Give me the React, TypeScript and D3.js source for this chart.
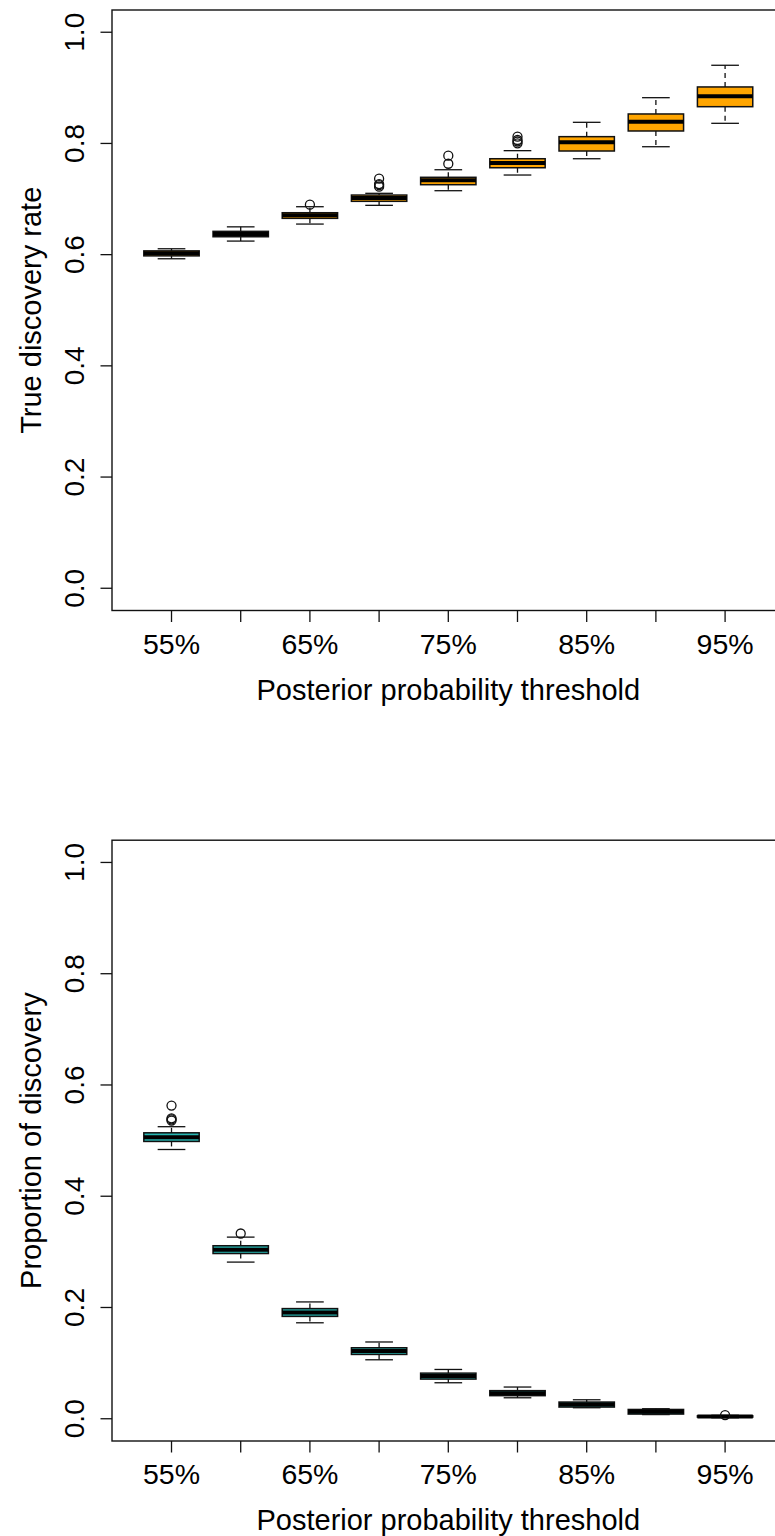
import { useEffect, useRef } from 'react';
import * as d3 from 'd3';

// Posterior probability thresholds (one box per threshold)
const thresholds = ['55%', '60%', '65%', '70%', '75%', '80%', '85%', '90%', '95%'];
// R drops the overlapping labels, only every other one is printed
const shownLabels = ['55%', '65%', '75%', '85%', '95%'];
const yTicks = [0, 0.2, 0.4, 0.6, 0.8, 1.0];

// True discovery rate
const tdrLow = [0.5926, 0.6244, 0.655, 0.6887, 0.715, 0.7432, 0.7725, 0.7941, 0.8362];
const tdrQ1 = [0.5978, 0.6322, 0.6653, 0.6959, 0.7258, 0.7563, 0.7864, 0.8224, 0.8661];
const tdrMedian = [0.6023, 0.637, 0.6707, 0.7018, 0.7337, 0.7648, 0.802, 0.8391, 0.8848];
const tdrQ3 = [0.6068, 0.6419, 0.6754, 0.7072, 0.7391, 0.7725, 0.8122, 0.853, 0.9016];
const tdrHigh = [0.6106, 0.650, 0.6862, 0.7103, 0.7527, 0.787, 0.838, 0.8823, 0.9406];
const tdrOutliers = [[], [], [0.6898], [0.7366, 0.727, 0.725, 0.7222], [0.778, 0.7635], [0.8121, 0.8062, 0.8035, 0.8002], [], [], []];

// Proportion of discovery
const podLow = [0.484, 0.2816, 0.1725, 0.106, 0.0647, 0.0377, 0.0198, 0.0075, 0.0018];
const podQ1 = [0.4985, 0.297, 0.184, 0.1156, 0.0713, 0.0415, 0.021, 0.0084, 0.003];
const podMedian = [0.506, 0.3037, 0.191, 0.122, 0.0767, 0.046, 0.0257, 0.0126, 0.0041];
const podQ3 = [0.514, 0.311, 0.198, 0.1276, 0.082, 0.0505, 0.030, 0.0167, 0.0052];
const podHigh = [0.525, 0.3265, 0.210, 0.138, 0.0886, 0.057, 0.0341, 0.018, 0.0062];
const podOutliers = [[0.563, 0.540, 0.538, 0.536], [0.333], [], [], [], [], [], [], [0.0066]];

const FONT = '"Liberation Sans", Arial, Helvetica, sans-serif';

interface Panel {
    top: number;
    bottom: number;
    label: string;
    fill: string;
    low: number[];
    q1: number[];
    median: number[];
    q3: number[];
    high: number[];
    outliers: number[][];
}

const panels: Panel[] = [
    { top: 10, bottom: 610.5, label: 'True discovery rate', fill: '#FFA500',
      low: tdrLow, q1: tdrQ1, median: tdrMedian, q3: tdrQ3, high: tdrHigh, outliers: tdrOutliers },
    { top: 840.2, bottom: 1441, label: 'Proportion of discovery', fill: '#26B5B0',
      low: podLow, q1: podQ1, median: podMedian, q3: podQ3, high: podHigh, outliers: podOutliers },
];

export default function App() {
    const svgRef = useRef<SVGSVGElement>(null);

    useEffect(() => {
        if (!svgRef.current) return;
        const svg = d3.select(svgRef.current);
        svg.selectAll('*').remove();

        // R's usr: 0.5..9.5 widened by 4%
        const x = d3.scaleLinear().domain([0.14, 9.86]).range([112, 784.6]);
        const step = x(2) - x(1);
        const boxW = step * 0.8;
        const capW = boxW * 0.5;

        panels.forEach(p => {
            const y = d3.scaleLinear().domain([-0.04, 1.04]).range([p.bottom, p.top]);
            const g = svg.append('g');

            // frame
            g.append('rect')
                .attr('x', x(0.14)).attr('y', y(1.04))
                .attr('width', x(9.86) - x(0.14)).attr('height', y(-0.04) - y(1.04))
                .attr('fill', 'none').attr('stroke', '#111').attr('stroke-width', 1.4);

            // y axis
            g.selectAll('.ytick').data(yTicks).enter().append('line')
                .attr('x1', x(0.14) - 11.5).attr('x2', x(0.14))
                .attr('y1', d => y(d)).attr('y2', d => y(d))
                .attr('stroke', '#111').attr('stroke-width', 1.3);
            g.selectAll('.ylab').data(yTicks).enter().append('text')
                .attr('transform', d => `translate(84,${y(d)}) rotate(-90)`)
                .attr('text-anchor', 'middle')
                .attr('font-family', FONT).attr('font-size', 28)
                .text(d => d3.format('.1f')(d));
            g.append('text')
                .attr('transform', `translate(41,${(p.top + p.bottom) / 2}) rotate(-90)`)
                .attr('text-anchor', 'middle')
                .attr('font-family', FONT).attr('font-size', 29)
                .text(p.label);

            // x axis
            g.selectAll('.xtick').data(thresholds).enter().append('line')
                .attr('x1', (_d, i) => x(i + 1)).attr('x2', (_d, i) => x(i + 1))
                .attr('y1', p.bottom).attr('y2', p.bottom + 11.5)
                .attr('stroke', '#111').attr('stroke-width', 1.3);
            g.selectAll('.xlab').data(thresholds).enter()
                .filter(d => shownLabels.includes(d))
                .append('text')
                .attr('x', d => x(thresholds.indexOf(d) + 1))
                .attr('y', p.bottom + 43)
                .attr('text-anchor', 'middle')
                .attr('font-family', FONT).attr('font-size', 28.5)
                .text(d => d);
            g.append('text')
                .attr('x', (x(0.14) + x(9.86)) / 2)
                .attr('y', p.bottom + 89)
                .attr('text-anchor', 'middle')
                .attr('font-family', FONT).attr('font-size', 29)
                .text('Posterior probability threshold');

            // boxes
            thresholds.forEach((_t, i) => {
                const cx = x(i + 1);
                const b = g.append('g');
                b.append('rect')
                    .attr('x', cx - boxW / 2).attr('y', y(p.q3[i]))
                    .attr('width', boxW).attr('height', y(p.q1[i]) - y(p.q3[i]))
                    .attr('fill', p.fill).attr('stroke', '#111').attr('stroke-width', 1.5);
                // dashed whiskers
                b.append('line')
                    .attr('x1', cx).attr('x2', cx)
                    .attr('y1', y(p.q3[i])).attr('y2', y(p.high[i]))
                    .attr('stroke', '#111').attr('stroke-width', 1.3).attr('stroke-dasharray', '5,4');
                b.append('line')
                    .attr('x1', cx).attr('x2', cx)
                    .attr('y1', y(p.q1[i])).attr('y2', y(p.low[i]))
                    .attr('stroke', '#111').attr('stroke-width', 1.3).attr('stroke-dasharray', '5,4');
                // staples
                [p.high[i], p.low[i]].forEach(v => {
                    b.append('line')
                        .attr('x1', cx - capW / 2).attr('x2', cx + capW / 2)
                        .attr('y1', y(v)).attr('y2', y(v))
                        .attr('stroke', '#111').attr('stroke-width', 1.3);
                });
                // median
                b.append('line')
                    .attr('x1', cx - boxW / 2).attr('x2', cx + boxW / 2)
                    .attr('y1', y(p.median[i])).attr('y2', y(p.median[i]))
                    .attr('stroke', '#000').attr('stroke-width', 4);
                // outliers
                b.selectAll('circle').data(p.outliers[i]).enter().append('circle')
                    .attr('cx', cx).attr('cy', d => y(d)).attr('r', 4.5)
                    .attr('fill', 'none').attr('stroke', '#111').attr('stroke-width', 1.3);
            });
        });
    }, []);

    return (
        <svg ref={svgRef} width={775} height={1536}
            style={{ position: 'absolute', left: 0, top: 0, background: '#fff' }} />
    );
}
